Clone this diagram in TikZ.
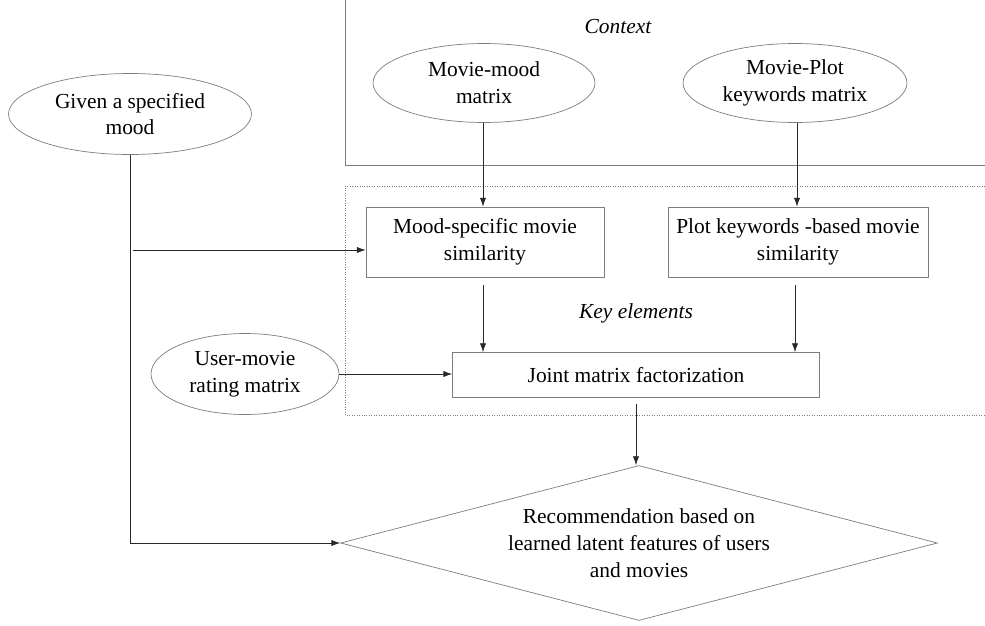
\documentclass[tikz,border=0pt]{standalone}
\usepackage{fontspec}
\setmainfont{Liberation Serif}
\definecolor{edgegray}{RGB}{125,125,125}
\definecolor{arrgray}{RGB}{40,40,40}
\usetikzlibrary{arrows.meta,positioning,shapes.geometric}
\tikzset{
  txt/.style={font=\fontsize{12.2}{15.3}\selectfont,align=center,text=black},
  ellip/.style={ellipse,draw=edgegray,thin,inner sep=0pt,txt},
  procbox/.style={rectangle,draw=edgegray,thin,inner sep=0pt,txt},
  arr/.style={-{Latex[length=5pt,width=3.5pt]},thin,arrgray},
  region/.style={edgegray,thin},
}
\begin{document}
\begin{tikzpicture}[x=0.02cm,y=-0.02cm]
    \useasboundingbox (0,0) rectangle (985,626);

    % context region (open at top and right)
    \draw[region] (985,165) -- (345,165) -- (345,0);
    \node[txt,font=\fontsize{12.2}{15.3}\selectfont\itshape] (ctx) at (618,27) {Context};

    % key elements region
    \draw[region,densely dotted] (985,186) -- (345,186) -- (345,415) -- (985,415);
    \node[txt,font=\fontsize{12.2}{15.3}\selectfont\itshape] (key) at (636,313) {Key elements};

    \node[ellip,minimum width=4.44cm,minimum height=1.58cm] (mm) at (484,83) {Movie-mood\\matrix};
    \node[ellip,minimum width=4.48cm,minimum height=1.58cm] (mp) at (795,83) {Movie-Plot\\keywords matrix};
    \node[ellip,minimum width=4.86cm,minimum height=1.62cm] (given) at (130,114) {Given a specified\\mood};
    \node[ellip,minimum width=3.76cm,minimum height=1.62cm] (um) at (245,374) {User-movie\\rating matrix};

    \node[procbox,minimum width=4.76cm,minimum height=1.4cm] (mood) at (485,242) {Mood-specific movie\\similarity};
    \node[procbox,minimum width=5.2cm,minimum height=1.4cm] (plot) at (798,242) {Plot keywords -based movie\\similarity};
    \node[procbox,minimum width=7.34cm,minimum height=0.9cm] (joint) at (636,375) {Joint matrix factorization};

    \node[diamond,draw=edgegray,thin,aspect=3.8,inner sep=0pt,minimum width=11.94cm,
          minimum height=3.1cm,txt] (rec) at (639,543)
          {Recommendation based on\\learned latent features of users\\and movies};

    \coordinate (c1) at (483,0);
    \coordinate (c2) at (797,0);
    \coordinate (c3) at (795,0);
    \coordinate (g1) at (131,250);

    \draw[arr] (mm.south -| c1) -- (mood.north -| c1);
    \draw[arr] (mp.south -| c2) -- (plot.north -| c2);
    \draw[arr] ([yshift=-0.16cm]mood.south -| c1) -- (joint.north -| c1);
    \draw[arr] ([yshift=-0.16cm]plot.south -| c3) -- (joint.north -| c3);
    \draw[arr] (um.east) -- (um.east -| joint.west);
    \draw[arr] ([yshift=-0.12cm]joint.south) -- (rec.north -| joint.south);
    \draw[arr] (given.south) |- (rec.west);
    \draw[arr] ([xshift=0.04cm]g1) -- (g1 -| mood.west);
\end{tikzpicture}
\end{document}
